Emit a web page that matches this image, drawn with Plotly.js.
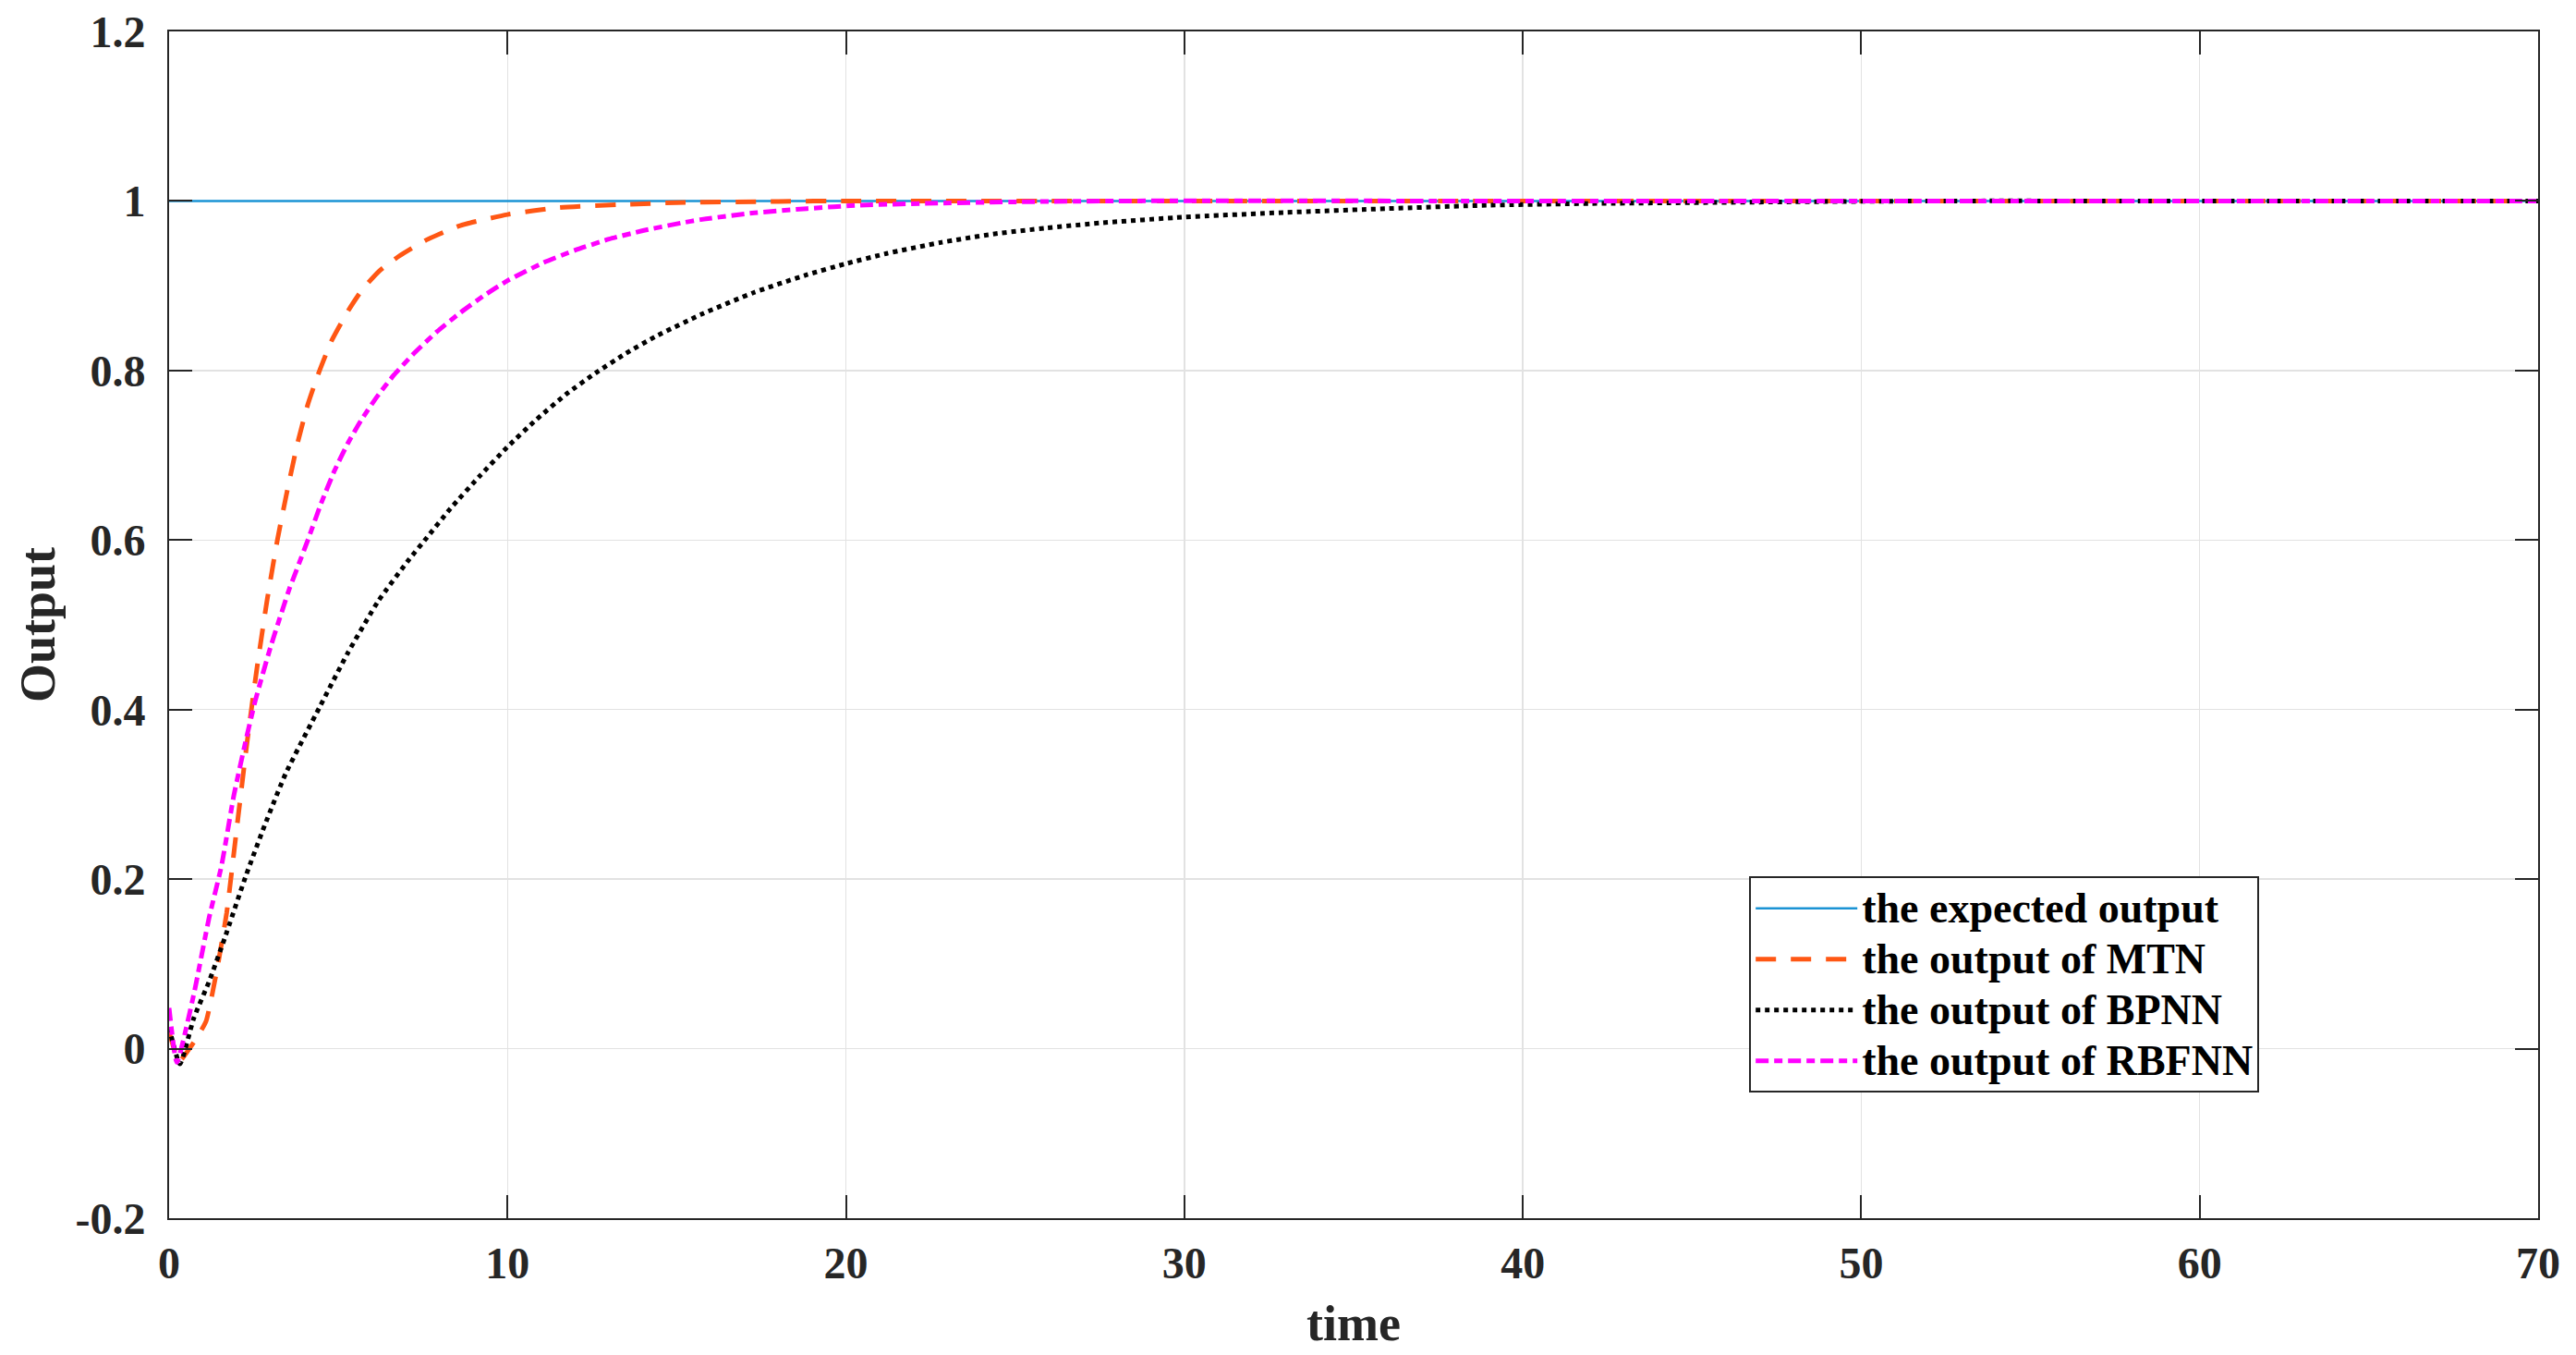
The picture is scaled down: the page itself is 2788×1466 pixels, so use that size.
<!DOCTYPE html>
<html>
<head>
<meta charset="utf-8">
<script src="https://cdn.plot.ly/plotly-3.0.1.min.js"></script>
<style>
html,body{margin:0;padding:0;background:#fff;}
#chart{width:2788px;height:1466px;}
</style>
</head>
<body>
<div id="chart"></div>
<script>
// ---- data ----
var tExpected = [0, 70];
var yExpected = [1, 1];

var tMTN = [0, 0.3, 0.6, 0.85, 1.09, 1.4, 1.7, 2.0, 2.3, 2.6, 2.9, 3.2, 3.5, 3.8, 4.1, 4.4, 4.8, 5.3, 5.7, 6.2, 6.8, 7.6, 8.6, 10, 11.5, 13.5, 15, 18, 20, 30, 40, 50, 60, 70];
var yMTN = [0.02, -0.015, 0.0, 0.015, 0.032, 0.09, 0.16, 0.26, 0.36, 0.45, 0.53, 0.60, 0.66, 0.715, 0.76, 0.795, 0.835, 0.871, 0.895, 0.917, 0.935, 0.954, 0.971, 0.984, 0.992, 0.996, 0.998, 0.9995, 1, 1, 1, 1, 1, 1];

var tBPNN = [0, 0.32, 0.73, 1.18, 1.64, 2.27, 2.82, 3.45, 4.45, 5.27, 6.18, 7.09, 7.62, 8.31, 9.19, 10, 10.85, 11.73, 12.6, 13.49, 14.37, 15.71, 17.28, 18.85, 20, 21.2, 22.8, 24.35, 25.9, 27.5, 30, 33, 36, 39, 42, 45, 48, 52, 60, 70];
var yBPNN = [0.025, -0.018, 0.036, 0.079, 0.13, 0.204, 0.263, 0.325, 0.403, 0.466, 0.528, 0.577, 0.603, 0.637, 0.676, 0.71, 0.742, 0.772, 0.797, 0.82, 0.84, 0.866, 0.892, 0.913, 0.926, 0.938, 0.951, 0.961, 0.968, 0.974, 0.981, 0.9865, 0.991, 0.995, 0.997, 0.998, 0.999, 1, 1, 1];

var tRBFNN = [0, 0.23, 0.73, 1.18, 1.55, 1.91, 2.27, 2.55, 3.0, 3.55, 3.76, 4.1, 4.5, 4.89, 5.28, 5.67, 6.16, 6.65, 7.23, 7.92, 8.6, 9.29, 10, 11.05, 12, 13, 14, 15.13, 15.7, 17.3, 18.85, 20.4, 22.8, 25.1, 28, 40, 50, 60, 70];
var yRBFNN = [0.048, -0.016, 0.064, 0.154, 0.216, 0.298, 0.364, 0.411, 0.474, 0.542, 0.564, 0.6, 0.644, 0.682, 0.714, 0.741, 0.77, 0.795, 0.82, 0.846, 0.868, 0.888, 0.906, 0.927, 0.942, 0.955, 0.965, 0.974, 0.978, 0.986, 0.991, 0.995, 0.9975, 0.999, 1, 1, 1, 1, 1];

var seriesNames = ['the expected output', 'the output of MTN', 'the output of BPNN', 'the output of RBFNN'];
var xTickVals = [0, 10, 20, 30, 40, 50, 60, 70];
var xTickText = ['0', '10', '20', '30', '40', '50', '60', '70'];
var yTickVals = [-0.2, 0, 0.2, 0.4, 0.6, 0.8, 1, 1.2];
var yTickText = ['-0.2', '0', '0.2', '0.4', '0.6', '0.8', '1', '1.2'];

var FONT = 'Liberation Serif, Times New Roman, serif';

function legendLabel(s) {
  return '<span style="font-size:46px">' + s + '</span>';
}

var traces = [
  {x: tExpected, y: yExpected, name: legendLabel(seriesNames[0]), mode: 'lines',
   line: {color: '#1a93d4', width: 2.5}},
  {x: tMTN, y: yMTN, name: legendLabel(seriesNames[1]), mode: 'lines',
   line: {color: '#ff5714', width: 5, dash: '22px,16px', shape: 'spline', smoothing: 0.5}},
  {x: tBPNN, y: yBPNN, name: legendLabel(seriesNames[2]), mode: 'lines',
   line: {color: '#000000', width: 5, dash: '5px,5px', shape: 'spline', smoothing: 0.5}},
  {x: tRBFNN, y: yRBFNN, name: legendLabel(seriesNames[3]), mode: 'lines',
   line: {color: '#ff00ff', width: 5, dash: '14px,6px,9px,6px', shape: 'spline', smoothing: 0.5}}
];

var axisCommon = {
  showgrid: true, gridcolor: '#e2e2e2', gridwidth: 1.5,
  zeroline: false,
  showline: true, linecolor: '#262626', linewidth: 2, mirror: 'ticks',
  ticks: 'inside', ticklen: 25, tickwidth: 2, tickcolor: '#262626',
  tickfont: {family: FONT, size: 48, color: '#262626', weight: 'bold'},
  tickmode: 'array'
};

var layout = {
  width: 2788, height: 1466,
  margin: {l: 183, r: 41, t: 34, b: 148},
  paper_bgcolor: '#ffffff', plot_bgcolor: '#ffffff',
  showlegend: true,
  xaxis: Object.assign({}, axisCommon, {
    range: [0, 70], tickvals: xTickVals, ticktext: xTickText,
    ticklabelstandoff: 5,
    title: {text: 'time', font: {family: FONT, size: 54, color: '#262626', weight: 'bold'}, standoff: 21}
  }),
  yaxis: Object.assign({}, axisCommon, {
    range: [-0.2, 1.2], tickvals: yTickVals, ticktext: yTickText,
    ticklabelstandoff: 14,
    title: {text: 'Output', font: {family: FONT, size: 54, color: '#262626', weight: 'bold'}, standoff: 5}
  }),
  legend: {
    x: 0.667, y: 0.288, xanchor: 'left', yanchor: 'top',
    bgcolor: '#ffffff', bordercolor: '#262626', borderwidth: 2,
    font: {family: FONT, size: 40, color: '#000000', weight: 'bold'},
    itemwidth: 110, tracegroupgap: 0
  }
};

Plotly.newPlot('chart', traces, layout, {displayModeBar: false, staticPlot: true});
</script>
</body>
</html>
